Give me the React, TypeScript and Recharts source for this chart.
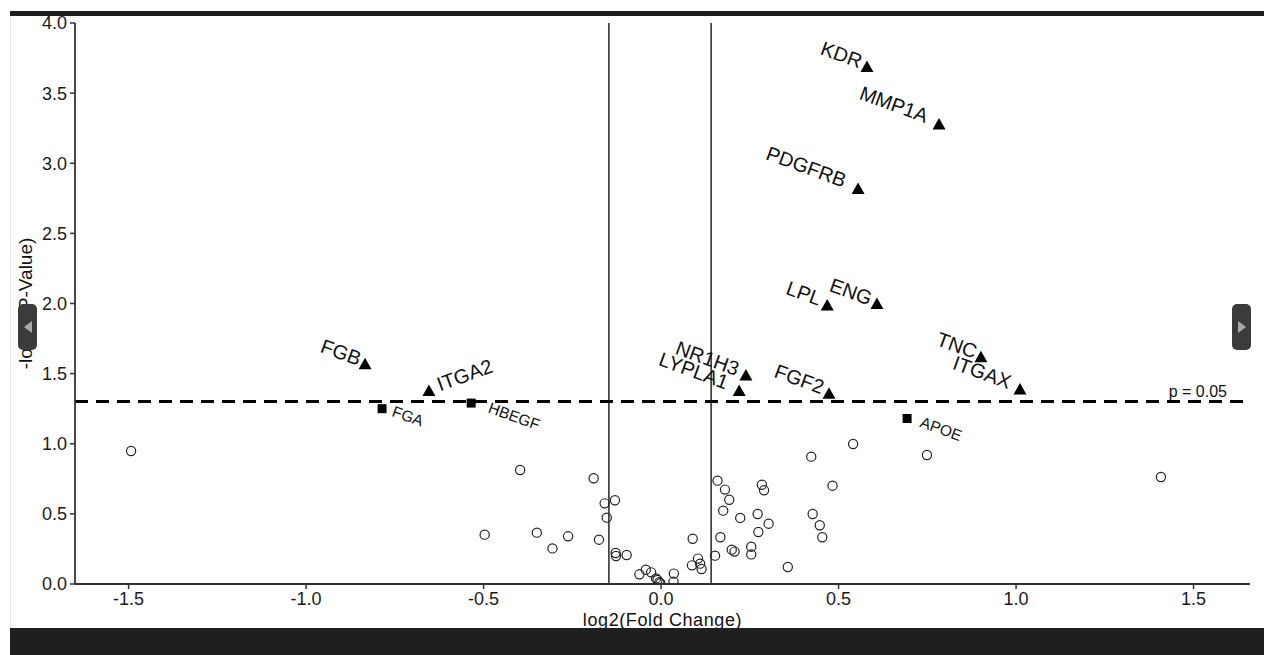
import React from "react";
import { ReferenceLine, Scatter, ScatterChart, XAxis, YAxis } from "recharts";

// genes over the p = 0.05 line (filled triangles)
const sigGenes = ["KDR", "MMP1A", "PDGFRB", "ENG", "LPL", "TNC", "ITGAX", "FGF2", "NR1H3", "LYPLA1", "FGB", "ITGA2"];
const sigLogFC = [0.58, 0.783, 0.555, 0.608, 0.468, 0.901, 1.011, 0.473, 0.239, 0.22, -0.834, -0.654];
const sigNegLogP = [3.69, 3.28, 2.82, 2.0, 1.99, 1.62, 1.39, 1.36, 1.49, 1.38, 1.57, 1.38];

// genes just under the line (filled squares)
const nearGenes = ["FGA", "HBEGF", "APOE"];
const nearLogFC = [-0.786, -0.535, 0.693];
const nearNegLogP = [1.25, 1.29, 1.18];

// the rest (open circles)
const otherLogFC = [
	-1.493, 1.408, -0.397, -0.19, -0.159, -0.13, -0.153, -0.497, -0.35, -0.262, -0.306, -0.175, -0.128, -0.127,
	-0.097, -0.061, -0.043, -0.028, -0.014, -0.005, -0.01, 0.036, 0.035, 0.089, 0.087, 0.104, 0.11, 0.114, 0.159,
	0.18, 0.192, 0.175, 0.223, 0.167, 0.152, 0.199, 0.207, 0.254, 0.254, 0.272, 0.274, 0.303, 0.284, 0.29, 0.357,
	0.423, 0.427, 0.447, 0.454, 0.483, 0.541, 0.749, -0.002,
];
const otherNegLogP = [
	0.948, 0.763, 0.813, 0.754, 0.575, 0.597, 0.473, 0.352, 0.366, 0.34, 0.254, 0.316, 0.221, 0.2, 0.207, 0.069,
	0.102, 0.083, 0.04, 0.012, 0.028, 0.074, 0.017, 0.323, 0.133, 0.181, 0.145, 0.107, 0.737, 0.673, 0.601, 0.523,
	0.471, 0.333, 0.202, 0.245, 0.231, 0.266, 0.211, 0.499, 0.371, 0.43, 0.708, 0.668, 0.121, 0.908, 0.499, 0.419,
	0.333, 0.701, 0.998, 0.92, 0.005,
];

const xTicks = [-1.5, -1.0, -0.5, 0.0, 0.5, 1.0, 1.5];
const yTicks = [0, 0.5, 1.0, 1.5, 2.0, 2.5, 3.0, 3.5, 4.0];
const fcCutoffs = [-0.147, 0.141];
const pCutoff = 1.301; // -log10(0.05)

// where each gene name sits relative to its mark (baseline end / start)
const labelNudge: Record<string, [number, number]> = {
	KDR: [-8, 2],
	MMP1A: [-14, -1],
	PDGFRB: [-15, -1],
	LPL: [-9, 1],
	ENG: [-8, 2],
	TNC: [-7, 2],
	ITGAX: [-12, 0],
	FGF2: [-8, 1],
	NR1H3: [-10, 1],
	LYPLA1: [-14, -1],
	FGB: [-7, 2],
	ITGA2: [11, 1],
	FGA: [9, 7],
	HBEGF: [16, 9],
	APOE: [12, 8],
};

const sigData = sigGenes.map((gene, i) => ({ gene, x: sigLogFC[i], y: sigNegLogP[i] }));
const nearData = nearGenes.map((gene, i) => ({ gene, x: nearLogFC[i], y: nearNegLogP[i] }));
const otherData = otherLogFC.map((x, i) => ({ x, y: otherNegLogP[i] }));

const FONT = "'Liberation Sans', Arial, sans-serif";

function TriangleMark(props: any) {
	const { cx, cy, payload } = props;
	const [dx, dy] = labelNudge[payload.gene] ?? [-10, 0];
	const lx = cx + dx;
	const ly = cy + dy;
	const left = dx < 0;
	return (
		<g>
			<path d={`M${cx},${cy - 6} L${cx + 6.5},${cy + 5.5} L${cx - 6.5},${cy + 5.5} Z`} fill="#000" />
			<text
				x={lx}
				y={ly}
				fontSize={20}
				fill="#111"
				textAnchor={left ? "end" : "start"}
				transform={`rotate(${left ? 20 : -20}, ${lx}, ${ly})`}
			>
				{payload.gene}
			</text>
		</g>
	);
}

function SquareMark(props: any) {
	const { cx, cy, payload } = props;
	const [dx, dy] = labelNudge[payload.gene] ?? [10, 8];
	const lx = cx + dx;
	const ly = cy + dy;
	return (
		<g>
			<rect x={cx - 4.5} y={cy - 4.5} width={9} height={9} fill="#000" />
			<text x={lx} y={ly} fontSize={15.5} fill="#111" transform={`rotate(20, ${lx}, ${ly})`}>
				{payload.gene}
			</text>
		</g>
	);
}

function CircleMark(props: any) {
	const { cx, cy } = props;
	return <circle cx={cx} cy={cy} r={4.6} fill="none" stroke="#222" strokeWidth={1.2} />;
}

function YTitle(props: any) {
	const vb = props.viewBox ?? { x: 0, y: 23, width: 75, height: 561 };
	const x = vb.x + 32;
	const y = vb.y + vb.height / 2;
	return (
		<text x={x} y={y} fontSize={19} fill="#111" textAnchor="middle" transform={`rotate(-90, ${x}, ${y})`}>
			-log10(P-Value)
		</text>
	);
}

function XTitle(props: any) {
	const vb = props.viewBox ?? { x: 75, y: 584, width: 1175, height: 50 };
	return (
		<text x={vb.x + vb.width / 2} y={vb.y + 42} fontSize={18} fill="#111" textAnchor="middle" letterSpacing={0.6}>
			log2(Fold Change)
		</text>
	);
}

function PLabel(props: any) {
	const vb = props.viewBox ?? { x: 75, y: 401, width: 1175, height: 0 };
	return (
		<text x={vb.x + vb.width - 23} y={vb.y - 5} fontSize={16} fill="#111" textAnchor="end">
			p = 0.05
		</text>
	);
}

function NavButton({ left, pointLeft }: { left: number; pointLeft: boolean }) {
	return (
		<div
			style={{
				position: "absolute",
				left,
				top: 304,
				width: 19,
				height: 46,
				borderRadius: 5,
				background: "#3b3b3b",
				display: "flex",
				alignItems: "center",
				justifyContent: "center",
			}}
		>
			<div
				style={{
					width: 0,
					height: 0,
					borderTop: "6px solid transparent",
					borderBottom: "6px solid transparent",
					borderRight: pointLeft ? "8px solid #a8a8a8" : undefined,
					borderLeft: pointLeft ? undefined : "8px solid #a8a8a8",
				}}
			/>
		</div>
	);
}

export default function App() {
	const axisLine = { stroke: "#333", strokeWidth: 1.8 };
	const tickLine = { stroke: "#333", strokeWidth: 1.5 };
	const tick = { fontSize: 18, fill: "#1a1a1a" };
	return (
		<div
			style={{
				position: "absolute",
				left: 0,
				top: 0,
				width: 1264,
				height: 655,
				overflow: "hidden",
				background: "#fff",
				fontFamily: FONT,
			}}
		>
			<div style={{ position: "absolute", left: 0, top: 0 }}>
				<ScatterChart width={1264} height={655} margin={{ top: 23, right: 14, bottom: 21, left: 0 }}>
					<XAxis
						type="number"
						dataKey="x"
						domain={[-1.651, 1.659]}
						allowDataOverflow
						ticks={xTicks}
						interval={0}
						tickFormatter={(v: number) => v.toFixed(1)}
						height={50}
						tickSize={5}
						tickMargin={3}
						axisLine={axisLine}
						tickLine={tickLine}
						tick={tick}
						label={{ content: XTitle }}
					/>
					<YAxis
						type="number"
						dataKey="y"
						domain={[0, 4]}
						allowDataOverflow
						ticks={yTicks}
						interval={0}
						tickFormatter={(v: number) => v.toFixed(1)}
						width={75}
						tickSize={5}
						tickMargin={3}
						axisLine={axisLine}
						tickLine={tickLine}
						tick={tick}
						label={{ content: YTitle }}
					/>
					{fcCutoffs.map((c) => (
						<ReferenceLine key={c} x={c} stroke="#333" strokeWidth={1.6} />
					))}
					<ReferenceLine
						y={pCutoff}
						stroke="#000"
						strokeWidth={3}
						strokeDasharray="13 8"
						label={{ content: PLabel }}
					/>
					<Scatter data={otherData} shape={CircleMark} isAnimationActive={false} />
					<Scatter data={nearData} shape={SquareMark} isAnimationActive={false} />
					<Scatter data={sigData} shape={TriangleMark} isAnimationActive={false} />
				</ScatterChart>
			</div>
			<div style={{ position: "absolute", left: 10, top: 11, width: 1254, height: 5, background: "#1e1e1e" }} />
			<div style={{ position: "absolute", left: 10, top: 16, width: 1, height: 612, background: "#e4e4e4" }} />
			<div style={{ position: "absolute", left: 10, top: 628, width: 1254, height: 27, background: "#1f1f1f" }} />
			<NavButton left={18} pointLeft />
			<NavButton left={1232} pointLeft={false} />
		</div>
	);
}
